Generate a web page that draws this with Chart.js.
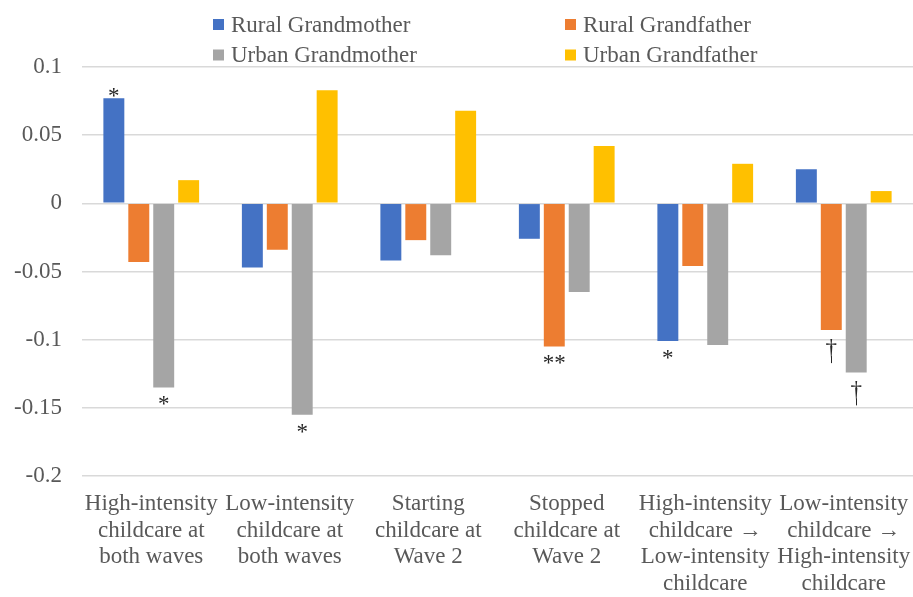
<!DOCTYPE html>
<html>
<head>
<meta charset="utf-8">
<script src="https://cdn.jsdelivr.net/npm/chart.js@4.4.1/dist/chart.umd.min.js"></script>
<style>
  html, body { margin: 0; padding: 0; background: #ffffff; }
  #wrap { position: relative; width: 913px; height: 597px; }
</style>
</head>
<body>
<div id="wrap"><canvas id="chart"></canvas></div>
<script>
// Categories (multi-line axis labels)
const categories = [
  ['High-intensity', 'childcare at', 'both waves'],
  ['Low-intensity', 'childcare at', 'both waves'],
  ['Starting', 'childcare at', 'Wave 2'],
  ['Stopped', 'childcare at', 'Wave 2'],
  ['High-intensity', 'childcare \u2192', 'Low-intensity', 'childcare'],
  ['Low-intensity', 'childcare \u2192', 'High-intensity', 'childcare']
];

const seriesNames = ['Rural Grandmother', 'Rural Grandfather', 'Urban Grandmother', 'Urban Grandfather'];

// Coefficients per series
const ruralGrandmother = [0.077, -0.047, -0.042, -0.026, -0.101, 0.025];
const ruralGrandfather = [-0.043, -0.034, -0.027, -0.105, -0.046, -0.093];
const urbanGrandmother = [-0.135, -0.155, -0.038, -0.065, -0.104, -0.124];
const urbanGrandfather = [0.017, 0.083, 0.068, 0.042, 0.029, 0.009];

// Significance markers per series
const sigRuralGrandmother = ['*', '', '', '', '*', ''];
const sigRuralGrandfather = ['', '', '', '**', '', '\u2020'];
const sigUrbanGrandmother = ['*', '*', '', '', '', '\u2020'];
const sigUrbanGrandfather = ['', '', '', '', '', ''];

// Value axis ticks
const yTicks = [0.1, 0.05, 0, -0.05, -0.1, -0.15, -0.2];

const seriesColors = ['#4472C4', '#ED7D31', '#A5A5A5', '#FFC000'];
const FONT = "'Liberation Serif', 'Times New Roman', serif";
const TEXT_COLOR = '#595959';

// Two-column legend above the plot
const gridLegend = {
  id: 'gridLegend',
  afterDraw(chart, args, opts) {
    const ctx = chart.ctx;
    ctx.save();
    ctx.font = opts.fontSize + 'px ' + FONT;
    ctx.textBaseline = 'middle';
    ctx.textAlign = 'left';
    chart.data.datasets.forEach((ds, i) => {
      const col = i % 2, row = Math.floor(i / 2);
      const x = opts.columns[col], y = opts.rows[row];
      ctx.fillStyle = ds.backgroundColor;
      ctx.fillRect(x, y - opts.box / 2, opts.box, opts.box);
      ctx.fillStyle = TEXT_COLOR;
      ctx.fillText(ds.label, x + opts.box + opts.gap, y + 1);
    });
    ctx.restore();
  }
};

// Significance markers at the end of each bar
const sigMarkers = {
  id: 'sigMarkers',
  afterDatasetsDraw(chart, args, opts) {
    const ctx = chart.ctx;
    ctx.save();
    ctx.font = opts.fontSize + 'px ' + FONT;
    ctx.textAlign = 'center';
    ctx.textBaseline = 'alphabetic';
    ctx.fillStyle = opts.color;
    ctx.strokeStyle = opts.color;
    ctx.lineWidth = 1;
    chart.data.datasets.forEach((ds, i) => {
      const meta = chart.getDatasetMeta(i);
      ds.markers.forEach((m, j) => {
        if (!m) return;
        const bar = meta.data[j];
        const tm = ctx.measureText(m);
        const v = ds.data[j];
        let baseline;
        if (v >= 0) {
          baseline = bar.y - opts.gapAbove - tm.actualBoundingBoxDescent;
        } else {
          baseline = bar.y + opts.gapBelow + tm.actualBoundingBoxAscent;
        }
        ctx.fillText(m, bar.x, baseline);
        if (m === '\u2020') {
          // lengthen the dagger's stem
          const bottom = baseline + tm.actualBoundingBoxDescent;
          const cx = Math.round(bar.x) + 0.5;
          ctx.beginPath();
          ctx.moveTo(cx, bottom - 2);
          ctx.lineTo(cx, bottom + opts.stem);
          ctx.stroke();
        }
      });
    });
    ctx.restore();
  }
};

const values = [ruralGrandmother, ruralGrandfather, urbanGrandmother, urbanGrandfather];
const markers = [sigRuralGrandmother, sigRuralGrandfather, sigUrbanGrandmother, sigUrbanGrandfather];

new Chart(document.getElementById('chart'), {
  type: 'bar',
  data: {
    labels: categories,
    datasets: seriesNames.map((name, i) => ({
      label: name,
      data: values[i],
      markers: markers[i],
      backgroundColor: seriesColors[i],
      borderWidth: 0,
      categoryPercentage: 0.72,
      barPercentage: 0.84
    }))
  },
  options: {
    responsive: true,
    maintainAspectRatio: false,
    animation: false,
    layout: { padding: { top: 67, right: -5, bottom: 0, left: 0 } },
    plugins: {
      legend: { display: false },
      tooltip: { enabled: false },
      gridLegend: { columns: [213, 565], rows: [24.5, 55], box: 11, gap: 7, fontSize: 23 },
      sigMarkers: { fontSize: 23, color: '#262626', gapAbove: 1, gapBelow: 9, stem: 5 }
    },
    scales: {
      x: {
        afterFit(axis) {
          axis.height = 121;
          axis.paddingLeft = 0;
          axis.paddingRight = 0;
        },
        grid: { display: false, drawTicks: false },
        border: { display: false },
        ticks: {
          color: TEXT_COLOR,
          font: { family: FONT, size: 23, lineHeight: '26.5px' },
          padding: 15,
          maxRotation: 0,
          minRotation: 0,
          autoSkip: false
        }
      },
      y: {
        min: -0.2,
        max: 0.1,
        afterFit(axis) { axis.width = 82; },
        afterBuildTicks(axis) { axis.ticks = yTicks.map(v => ({ value: v })); },
        grid: { color: '#d9d9d9', lineWidth: 1.5, drawTicks: false },
        border: { display: false },
        ticks: {
          color: TEXT_COLOR,
          font: { family: FONT, size: 23 },
          padding: 20,
          callback: (v) => String(v)
        }
      }
    }
  },
  plugins: [gridLegend, sigMarkers]
});
</script>
</body>
</html>
